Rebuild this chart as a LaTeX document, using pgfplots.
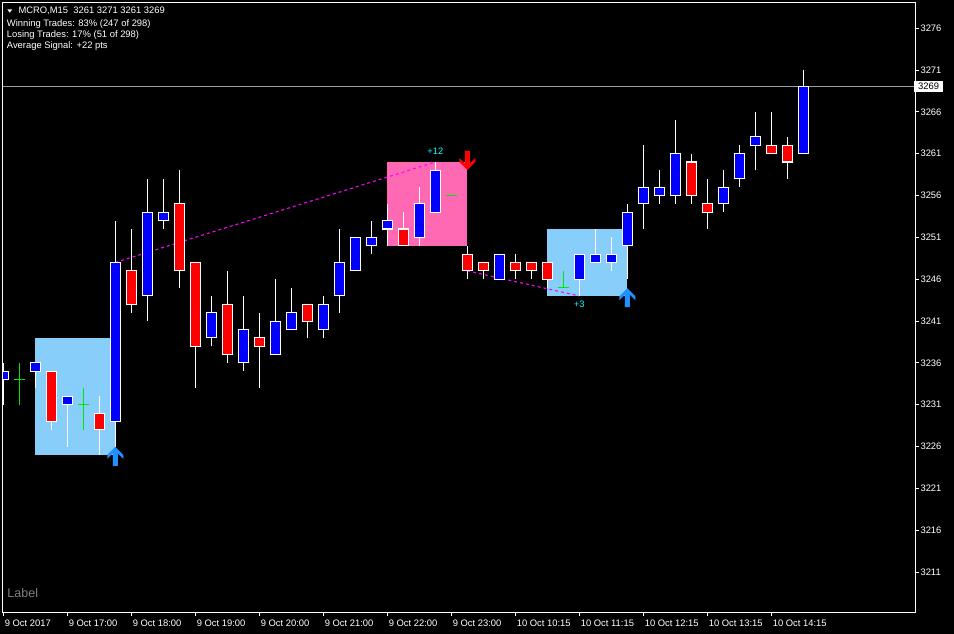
\documentclass[border=0pt]{standalone}
\usepackage{pgfplots}
\pgfplotsset{compat=1.18}
\usepackage{pgfplotstable}
\usepackage{fontspec}
\setmainfont{Liberation Sans}

\definecolor{bullc}{RGB}{0,0,255}
\definecolor{bearc}{RGB}{255,0,0}
\definecolor{boxblue}{RGB}{135,206,250}
\definecolor{boxpink}{RGB}{255,105,180}
\definecolor{arrowblue}{RGB}{30,144,255}
\definecolor{sellred}{RGB}{255,0,0}
\definecolor{bidline}{RGB}{150,160,170}
\definecolor{dojic}{RGB}{0,230,0}
\definecolor{labelgray}{RGB}{128,128,128}
\definecolor{sigmag}{RGB}{255,0,255}
\definecolor{aquac}{RGB}{0,255,255}

\pgfdeclareplotmark{buyarrow}{%
 \pgfpathmoveto{\pgfpoint{0pt}{0pt}}%
 \pgfpathlineto{\pgfpoint{8pt}{-8pt}}%
 \pgfpathlineto{\pgfpoint{8pt}{-12pt}}%
 \pgfpathlineto{\pgfpoint{2.5pt}{-6.5pt}}%
 \pgfpathlineto{\pgfpoint{2.5pt}{-19pt}}%
 \pgfpathlineto{\pgfpoint{-2.5pt}{-19pt}}%
 \pgfpathlineto{\pgfpoint{-2.5pt}{-6.5pt}}%
 \pgfpathlineto{\pgfpoint{-8pt}{-12pt}}%
 \pgfpathlineto{\pgfpoint{-8pt}{-8pt}}%
 \pgfpathclose\pgfusepathqfill}
\pgfdeclareplotmark{sellarrow}{%
 \pgfpathmoveto{\pgfpoint{0pt}{0pt}}%
 \pgfpathlineto{\pgfpoint{8pt}{8pt}}%
 \pgfpathlineto{\pgfpoint{8pt}{12pt}}%
 \pgfpathlineto{\pgfpoint{2.5pt}{6.5pt}}%
 \pgfpathlineto{\pgfpoint{2.5pt}{19pt}}%
 \pgfpathlineto{\pgfpoint{-2.5pt}{19pt}}%
 \pgfpathlineto{\pgfpoint{-2.5pt}{6.5pt}}%
 \pgfpathlineto{\pgfpoint{-8pt}{12pt}}%
 \pgfpathlineto{\pgfpoint{-8pt}{8pt}}%
 \pgfpathclose\pgfusepathqfill}

\pgfplotstableread{
i O H L C
0 3234 3236 3231 3235
1 3234 3236 3231 3234
2 3235 3236 3233 3236
3 3235 3235 3228 3229
4 3231 3232 3226 3232
5 3231 3233 3228 3231
6 3230 3232 3225 3228
7 3229 3253 3226 3248
8 3247 3252 3242 3243
9 3244 3258 3241 3254
10 3253 3258 3252 3254
11 3255 3259 3245 3247
12 3248 3248 3233 3238
13 3239 3244 3238 3242
14 3243 3247 3236 3237
15 3236 3244 3235 3240
16 3239 3242 3233 3238
17 3237 3246 3237 3241
18 3240 3245 3240 3242
19 3243 3243 3239 3241
20 3240 3244 3239 3243
21 3244 3252 3242 3248
22 3247 3251 3247 3251
23 3250 3253 3249 3251
24 3252 3255 3250 3253
25 3252 3254 3250 3250
26 3251 3257 3250 3255
27 3254 3260 3254 3259
28 3256 3256 3256 3256
29 3249 3250 3246 3247
30 3248 3248 3246 3247
31 3246 3249 3246 3249
32 3248 3249 3246 3247
33 3248 3248 3246 3247
34 3248 3248 3245 3246
35 3245 3247 3245 3245
36 3246 3249 3244 3249
37 3248 3252 3248 3249
38 3248 3251 3247 3249
39 3250 3255 3246 3254
40 3255 3262 3252 3257
41 3256 3259 3255 3257
42 3256 3265 3255 3261
43 3260 3261 3255 3256
44 3255 3258 3252 3254
45 3255 3259 3254 3257
46 3258 3262 3257 3261
47 3262 3266 3259 3263
48 3262 3266 3261 3261
49 3262 3263 3258 3260
50 3261 3271 3261 3269
}\candles

\begin{document}
\begin{tikzpicture}[x=1pt,y=1pt]
\path[use as bounding box] (0,0) rectangle (954,634);
\fill[black] (0,0) rectangle (954,634);
\begin{axis}[
 at={(2.3pt,22pt)}, anchor=south west, scale only axis,
 width=912.7pt, height=610pt,
 xmin=-0.0625, xmax=56.98, ymin=3206.24, ymax=3279.12,
 axis line style={white, line width=0.9pt},
 axis on top,
 tick align=outside, major tick length=4pt,
 tick style={white, line width=0.9pt},
 scaled y ticks=false,
 ytick={3211,3216,...,3276},
 ytick pos=right, yticklabel pos=right,
 xtick={0,4,...,48}, xtick pos=left,
 xticklabels={9 Oct 2017, 9 Oct 17:00, 9 Oct 18:00, 9 Oct 19:00, 9 Oct 20:00, 9 Oct 21:00, 9 Oct 22:00, 9 Oct 23:00, 10 Oct 10:15, 10 Oct 11:15, 10 Oct 12:15, 10 Oct 13:15, 10 Oct 14:15},
 ticklabel style={white, font=\fontsize{9.4}{11}\selectfont},
 yticklabel style={anchor=west, xshift=-2pt},
 xticklabel style={anchor=north west, xshift=-2pt},
 /pgf/number format/1000 sep={},
 /pgf/number format/assume math mode=true,
 extra y ticks={3269},
 extra y tick style={major tick length=0pt, yticklabel style={fill=white, text=black, inner xsep=4pt, inner ysep=2pt, xshift=1pt}},
]
% signal boxes
\addplot[fill=boxblue, draw=none] coordinates {(2,3225) (7,3225) (7,3239) (2,3239)} --cycle;
\addplot[fill=boxpink, draw=none] coordinates {(24,3250) (29,3250) (29,3260) (24,3260)} --cycle;
\addplot[fill=boxblue, draw=none] coordinates {(34,3244) (39,3244) (39,3252) (34,3252)} --cycle;
% bid line
\addplot[bidline, line width=1pt] coordinates {(-1,3269) (58,3269)};
% signal lines
\addplot[sigmag, line width=1.1pt, dash pattern=on 3pt off 3pt] coordinates {(7,3248) (27,3260)};
\addplot[sigmag, line width=1.1pt, dash pattern=on 3pt off 3pt] coordinates {(29,3247) (36,3244)};
% candles
\pgfplotsinvokeforeach{0,...,50}{%
  \pgfplotstablegetelem{#1}{O}\of\candles \edef\cO{\pgfplotsretval}%
  \pgfplotstablegetelem{#1}{H}\of\candles \edef\cH{\pgfplotsretval}%
  \pgfplotstablegetelem{#1}{L}\of\candles \edef\cL{\pgfplotsretval}%
  \pgfplotstablegetelem{#1}{C}\of\candles \edef\cC{\pgfplotsretval}%
  \ifnum\cO=\cC\relax
    \pgfmathsetmacro\xl{#1-0.34}\pgfmathsetmacro\xr{#1+0.34}%
    \edef\tmp{\noexpand\addplot[dojic, line width=1.3pt] coordinates {(#1,\cL) (#1,\cH)};%
      \noexpand\addplot[dojic, line width=1.3pt] coordinates {(\xl,\cO) (\xr,\cO)};}\tmp
  \else
    \ifnum\cC>\cO\relax \def\bcol{bullc}\else\def\bcol{bearc}\fi
    \pgfmathsetmacro\xl{#1-0.3}\pgfmathsetmacro\xr{#1+0.3}%
    \edef\tmp{\noexpand\addplot[white, line width=1.2pt] coordinates {(#1,\cL) (#1,\cH)};%
      \noexpand\addplot[fill=\bcol, draw=white, line width=1.1pt] coordinates {(\xl,\cO) (\xr,\cO) (\xr,\cC) (\xl,\cC)} --cycle;}\tmp
  \fi
}
% arrows
\addplot[only marks, mark=buyarrow, color=arrowblue] coordinates {(7,3225.96) (39,3244.92)};
\addplot[only marks, mark=sellarrow, color=sellred] coordinates {(29,3259.05)};
\node[text=aquac, font=\fontsize{9.4}{11}\selectfont, inner sep=0] at (axis cs:27,3261.3) {+12};
\node[text=aquac, font=\fontsize{9.4}{11}\selectfont, inner sep=0] at (axis cs:36,3243.0) {+3};
\end{axis}
% header text
\fill[white] (7.3,624.7) -- (12.3,624.7) -- (9.8,621.3) -- cycle;
\node[anchor=base west, inner sep=0, text=white, font=\fontsize{9.4}{11}\selectfont] at (18.3,620) {MCRO,M15\ \ 3261 3271 3261 3269};
\node[anchor=base west, inner sep=0, text=white, font=\fontsize{9.4}{11}\selectfont] at (6.7,607.3) {Winning Trades: 83\% (247 of 298)};
\node[anchor=base west, inner sep=0, text=white, font=\fontsize{9.4}{11}\selectfont] at (6.7,596.3) {Losing Trades: 17\% (51 of 298)};
\node[anchor=base west, inner sep=0, text=white, font=\fontsize{9.4}{11}\selectfont] at (6.7,585.5) {Average Signal: +22 pts};
\node[anchor=base west, inner sep=0, text=labelgray, font=\fontsize{12.5}{14}\selectfont] at (7.3,36.3) {Label};
\end{tikzpicture}
\end{document}
